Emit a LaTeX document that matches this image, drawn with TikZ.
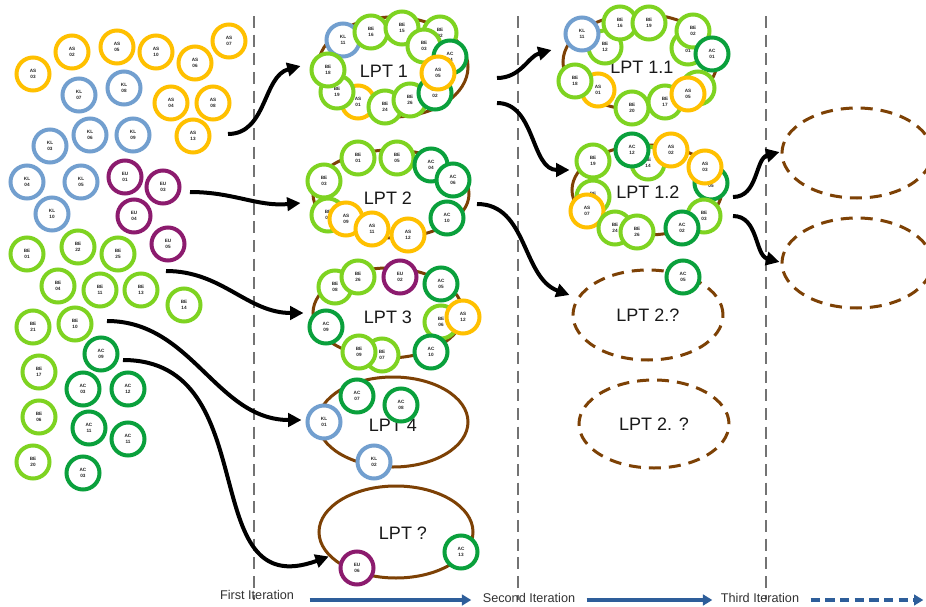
\documentclass[tikz,border=0pt]{standalone}
\usepackage{fontspec}
\setmainfont{Liberation Sans}
\usetikzlibrary{arrows.meta,shapes.geometric}
\definecolor{cAS}{RGB}{255,192,0}
\definecolor{cKL}{RGB}{114,159,207}
\definecolor{cEU}{RGB}{140,27,110}
\definecolor{cBE}{RGB}{126,211,33}
\definecolor{cAC}{RGB}{10,160,60}
\definecolor{cBr}{RGB}{125,65,5}
\definecolor{cAx}{RGB}{46,94,154}
\tikzset{
 cir/.style={circle,line width=3pt,fill=white,minimum size=24.75pt,inner sep=0pt,align=center,
   font=\fontsize{3.5}{4}\selectfont\bfseries,text=black!85},
 as/.style={cir,draw=cAS}, kl/.style={cir,draw=cKL}, eu/.style={cir,draw=cEU},
 be/.style={cir,draw=cBE}, ac/.style={cir,draw=cAC},
 lpt/.style={ellipse,draw=cBr,line width=2.25pt,inner sep=0pt,font=\fontsize{13.5}{16}\selectfont,text=black!90},
 dlpt/.style={lpt,dash pattern=on 9pt off 6pt},
 ltxt/.style={font=\fontsize{13.5}{16}\selectfont,text=black!90},
 arr/.style={line width=3pt,-{Triangle[length=10pt,width=10pt]}},
 vline/.style={draw=black!55,line width=1.2pt,dash pattern=on 9pt off 5pt},
 axarr/.style={draw=cAx,line width=2.3pt,-{Triangle[length=7pt,width=8pt]}},
 axtxt/.style={font=\fontsize{9.5}{11}\selectfont,text=black!80,inner sep=1pt}
}
\newcommand\cn[4]{\node[#1] (#2) at (#3) {#4};}
\begin{document}
\begin{tikzpicture}[x=0.75pt,y=-0.75pt]
\useasboundingbox (0,0) rectangle (926,607);
\fill[white] (0,0) rectangle (926,607);
% vertical dashed lines
\coordinate (v1t) at (254,16); \coordinate (v1b) at (254,600);
\coordinate (v2t) at (518,16); \coordinate (v2b) at (518,600);
\coordinate (v3t) at (766,16); \coordinate (v3b) at (766,600);
\draw[vline] (v1t) -- (v1b);
\draw[vline] (v2t) -- (v2b);
\draw[vline] (v3t) -- (v3b);
% left cluster
\cn{as}{L1}{33,74}{AS\\03}
\cn{as}{L2}{72,52}{AS\\02}
\cn{as}{L3}{117,47}{AS\\05}
\cn{as}{L4}{156,52}{AS\\10}
\cn{as}{L5}{195,63}{AS\\06}
\cn{as}{L6}{229,41}{AS\\07}
\cn{kl}{L7}{79,95}{KL\\07}
\cn{kl}{L8}{124,88}{KL\\08}
\cn{as}{L9}{171,103}{AS\\04}
\cn{as}{L10}{213,103}{AS\\08}
\cn{kl}{L11}{50,146}{KL\\03}
\cn{kl}{L12}{90,135}{KL\\06}
\cn{kl}{L13}{133,135}{KL\\09}
\cn{as}{L14}{193,136}{AS\\13}
\cn{kl}{L15}{27,182}{KL\\04}
\cn{kl}{L16}{81,182}{KL\\05}
\cn{eu}{L17}{125,177}{EU\\01}
\cn{eu}{L18}{163,187}{EU\\03}
\cn{kl}{L19}{52,214}{KL\\10}
\cn{eu}{L20}{134,216}{EU\\04}
\cn{be}{L21}{27,254}{BE\\01}
\cn{be}{L22}{78,247}{BE\\22}
\cn{be}{L23}{118,254}{BE\\25}
\cn{eu}{L24}{168,244}{EU\\05}
\cn{be}{L25}{58,286}{BE\\04}
\cn{be}{L26}{100,290}{BE\\11}
\cn{be}{L27}{141,290}{BE\\13}
\cn{be}{L28}{184,305}{BE\\14}
\cn{be}{L29}{33,327}{BE\\21}
\cn{be}{L30}{75,324}{BE\\10}
\cn{ac}{L31}{101,354}{AC\\09}
\cn{be}{L32}{39,372}{BE\\17}
\cn{ac}{L33}{83,389}{AC\\03}
\cn{ac}{L34}{128,389}{AC\\12}
\cn{be}{L35}{39,417}{BE\\06}
\cn{ac}{L36}{89,428}{AC\\11}
\cn{ac}{L37}{128,439}{AC\\11}
\cn{be}{L38}{33,462}{BE\\20}
\cn{ac}{L39}{83,473}{AC\\03}
% LPT 1
\node[lpt,minimum width=112.5pt,minimum height=75pt] (lpt1) at (393,67) {};
\node[ltxt] (t1) at (384,71) {LPT 1};
\cn{be}{A0}{440,33}{BE\\02}
\cn{kl}{A1}{343,40}{KL\\11}
\cn{be}{A2}{371,32}{BE\\16}
\cn{be}{A3}{402,28}{BE\\15}
\cn{be}{A4}{424,46}{BE\\03}
\cn{as}{A5}{358,102}{AS\\01}
\cn{be}{A6}{337,92}{BE\\19}
\cn{be}{A7}{328,70}{BE\\18}
\cn{be}{A8}{385,107}{BE\\24}
\cn{be}{A9}{410,100}{BE\\26}
\cn{ac}{A10}{435,93}{AC\\02}
\cn{ac}{A11}{450,57}{AC\\04}
\cn{as}{A12}{438,73}{AS\\05}
% LPT 2
\node[lpt,minimum width=117pt,minimum height=66pt] (lpt2) at (391,194) {};
\node[ltxt] (t2) at (388,198) {LPT 2};
\cn{be}{B1}{324,181}{BE\\03}
\cn{be}{B2}{358,158}{BE\\01}
\cn{be}{B3}{397,158}{BE\\05}
\cn{ac}{B4}{431,165}{AC\\04}
\cn{ac}{B5}{453,180}{AC\\06}
\cn{ac}{B6}{447,218}{AC\\10}
\cn{be}{B7}{328,215}{BE\\02}
\cn{as}{B8}{346,219}{AS\\09}
\cn{as}{B9}{372,229}{AS\\11}
\cn{as}{B10}{408,235}{AS\\12}
% LPT 3
\node[lpt,minimum width=112.5pt,minimum height=67.5pt] (lpt3) at (388,313) {};
\node[ltxt] (t3) at (388,317) {LPT 3};
\cn{be}{C1}{335,287}{BE\\08}
\cn{be}{C2}{358,277}{BE\\26}
\cn{eu}{C3}{400,277}{EU\\02}
\cn{ac}{C4}{441,284}{AC\\05}
\cn{be}{C5}{441,322}{BE\\06}
\cn{as}{C6}{463,317}{AS\\12}
\cn{ac}{C7}{326,327}{AC\\09}
\cn{be}{C8}{382,355}{BE\\07}
\cn{be}{C9}{359,352}{BE\\09}
\cn{ac}{C10}{431,352}{AC\\10}
% LPT 4
\node[lpt,minimum width=112.5pt,minimum height=67.5pt] (lpt4) at (393,422) {};
\node[ltxt] (t4) at (393,425) {LPT 4};
\cn{kl}{D1}{324,422}{KL\\01}
\cn{ac}{D2}{357,396}{AC\\07}
\cn{ac}{D3}{401,405}{AC\\08}
\cn{kl}{D4}{374,462}{KL\\02}
% LPT ?
\node[lpt,minimum width=115.5pt,minimum height=69pt] (lptq) at (396,532) {};
\node[ltxt] (t5) at (403,533) {LPT ?};
\cn{eu}{E1}{357,568}{EU\\06}
\cn{ac}{E2}{461,552}{AC\\13}
% LPT 1.1
\node[lpt,minimum width=115.5pt,minimum height=72pt] (lpt11) at (640,62) {};
\node[ltxt] (t6) at (642,67) {LPT 1.1};
\cn{be}{F1}{605,47}{BE\\12}
\cn{kl}{F2}{582,34}{KL\\11}
\cn{be}{F3}{620,23}{BE\\16}
\cn{be}{F4}{649,23}{BE\\19}
\cn{be}{F5}{688,48}{BE\\01}
\cn{be}{F6}{693,31}{BE\\02}
\cn{ac}{F7}{712,54}{AC\\01}
\cn{as}{F8}{598,90}{AS\\01}
\cn{be}{F9}{575,81}{BE\\18}
\cn{be}{F10}{632,108}{BE\\20}
\cn{be}{F11}{698,88}{BE\\04}
\cn{be}{F12}{665,102}{BE\\17}
\cn{as}{F13}{688,94}{AS\\05}
% LPT 1.2
\node[lpt,minimum width=112.5pt,minimum height=67.5pt] (lpt12) at (647,190) {};
\node[ltxt] (t7) at (648,192) {LPT 1.2};
\cn{be}{G1}{648,163}{BE\\14}
\cn{be}{G2}{593,161}{BE\\19}
\cn{ac}{G3}{632,150}{AC\\12}
\cn{as}{G4}{671,150}{AS\\02}
\cn{ac}{G5}{711,183}{AC\\05}
\cn{as}{G6}{705,167}{AS\\03}
\cn{be}{G7}{593,197}{BE\\01}
\cn{as}{G8}{587,211}{AS\\07}
\cn{be}{G9}{615,228}{BE\\24}
\cn{be}{G10}{637,232}{BE\\26}
\cn{be}{G11}{704,216}{BE\\03}
\cn{ac}{G12}{682,228}{AC\\02}
% dashed LPTs
\node[dlpt,minimum width=112.5pt,minimum height=67.5pt] (lpt2a) at (648,315) {LPT 2.?};
\cn{ac}{H1}{683,277}{AC\\05}
\node[dlpt,minimum width=112.5pt,minimum height=66pt] (lpt2b) at (654,424) {LPT 2. ?};
\node[dlpt,minimum width=112.5pt,minimum height=67.5pt] (r1) at (857,153) {};
\node[dlpt,minimum width=112.5pt,minimum height=67.5pt] (r2) at (857,263) {};
% arrows
\coordinate (s1) at (228,134);
\coordinate (s2) at (190,192);
\coordinate (s3) at (166,271);
\coordinate (s4) at (107,321);
\coordinate (s5) at (123,360);
\coordinate (s6) at (497,78);
\coordinate (s7) at (497,103);
\coordinate (s8) at (477,204);
\coordinate (s9) at (733,197);
\coordinate (s10) at (733,216);
\draw[arr] (s1) to[out=0,in=195] ([shift={(-16,-1)}]lpt1.west);
\draw[arr] (s2) to[out=0,in=185] ([shift={(-11,9)}]lpt2.west);
\draw[arr] (s3) to[out=0,in=180] ([shift={(-8,0)}]lpt3.west);
\draw[arr] (s4) to[out=0,in=180] ([shift={(-15,-2)}]lpt4.west);
\draw[arr] (s5) to[out=0,in=200,looseness=1.3] (lptq.200);
\draw[arr] (s6) to[out=0,in=195] ([shift={(-10,-12)}]lpt11.west);
\draw[arr] (s7) to[out=0,in=180] ([shift={(-1,-20)}]lpt12.west);
\draw[arr] (s8) to[out=0,in=160] ([shift={(-2,-20)}]lpt2a.west);
\draw[arr] (s9) to[out=0,in=195] ([shift={(-1,-1)}]r1.west);
\draw[arr] (s10) to[out=0,in=165] ([shift={(-1,-1)}]r2.west);
% axis
\node[axtxt] (x1) at (257,595) {First Iteration};
\node[axtxt] (x2) at (529,598) {Second Iteration};
\node[axtxt] (x3) at (760,598) {Third Iteration};
\coordinate (xe) at (926,600);
\draw[axarr] ([shift={(14,5)}]x1.east) -- ([shift={(-10,2)}]x2.west);
\draw[axarr] ([shift={(10,2)}]x2.east) -- ([shift={(-7,2)}]x3.west);
\draw[axarr,dash pattern=on 7pt off 4pt] ([shift={(10,2)}]x3.east) -- ([xshift=-2pt]xe);
\end{tikzpicture}
\end{document}
